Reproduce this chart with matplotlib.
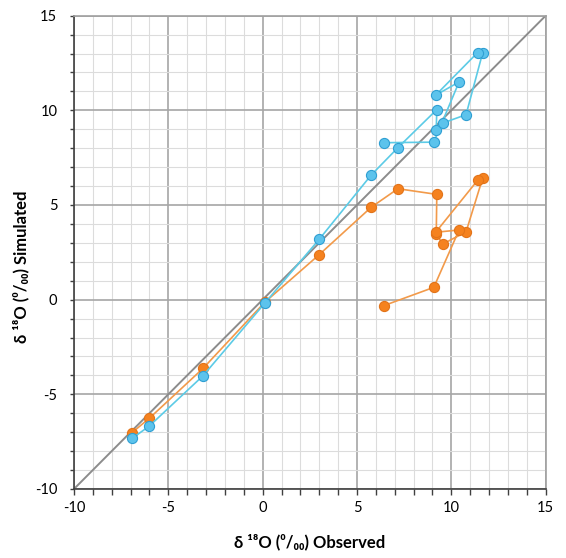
import numpy as np
import matplotlib
matplotlib.use("Agg")
import matplotlib.pyplot as plt
from matplotlib.ticker import MultipleLocator

# matplotlib configurations
plt.rcParams["font.family"] = ["Lato", "DejaVu Sans"]
plt.rcParams["axes.unicode_minus"] = False

### Data ###
observed = [-6.92, -6.0, -3.16, 0.1, 3.0, 5.75, 7.17, 9.23, 9.2, 9.55,
            10.78, 11.66, 11.39, 9.17, 10.41, 9.07, 6.41]
sim_blue = [-7.33, -6.67, -4.02, -0.2, 3.19, 6.58, 8.03, 10.04, 8.98, 9.33,
            9.77, 13.04, 13.05, 10.8, 11.5, 8.32, 8.29]
sim_orange = [-7.02, -6.26, -3.63, -0.15, 2.38, 4.88, 5.86, 5.56, 3.45, 2.94,
              3.58, 6.42, 6.3, 3.56, 3.68, 0.65, -0.32]
axis_lim = [-10, 15]

fig = plt.figure(figsize=(5.66, 5.58), dpi=100)
ax = fig.add_axes([0.1307, 0.1237, 0.8334, 0.8482])

# grid
ax.xaxis.set_major_locator(MultipleLocator(5))
ax.yaxis.set_major_locator(MultipleLocator(5))
ax.xaxis.set_minor_locator(MultipleLocator(1))
ax.yaxis.set_minor_locator(MultipleLocator(1))
ax.grid(which="minor", color="#dcdcdc", lw=0.8)
ax.grid(which="major", color="#a6a6a6", lw=1.2)
ax.set_axisbelow(True)

# 1:1 line
ax.plot(axis_lim, axis_lim, color="#8c8c8c", lw=1.4, zorder=2)

ax.plot(observed, sim_orange, color="#f29a4a", lw=1.2, marker="o", ms=7.3,
        mfc="#f5821f", mec="#e2741a", mew=0.8, zorder=3)
ax.plot(observed, sim_blue, color="#5ccbe6", lw=1.2, marker="o", ms=7.3,
        mfc="#5cc3ec", mec="#2f9fd3", mew=0.8, zorder=4)

ax.set_xlim(axis_lim)
ax.set_ylim(axis_lim)

for side in ["top", "right"]:
    ax.spines[side].set_color("#a0a0a0")
    ax.spines[side].set_linewidth(1.2)
for side in ["left", "bottom"]:
    ax.spines[side].set_color("#404040")
    ax.spines[side].set_linewidth(1.2)

ax.tick_params(which="both", direction="out", length=4, width=1, color="#404040",
               labelsize=10.5, pad=5)
ax.tick_params(axis="y", which="both", length=3, pad=9)
ax.set_xticks([-10, -5, 0, 5, 10, 15])
ax.set_yticks([-10, -5, 0, 5, 10, 15])

ax.set_xlabel("δ ¹⁸O (⁰/₀₀) Observed", fontsize=12, fontweight="bold", labelpad=13)
ax.set_ylabel("δ ¹⁸O (⁰/₀₀) Simulated", fontsize=12, fontweight="bold", labelpad=5)
ax.yaxis.set_label_coords(-0.095, 0.47)

fig.savefig("out.png", dpi=100)
